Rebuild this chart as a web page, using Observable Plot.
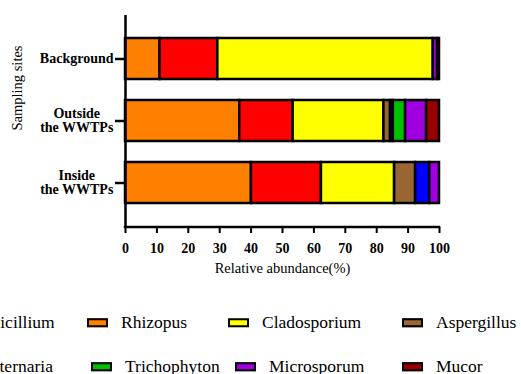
<!DOCTYPE html>
<html>
<head>
<meta charset="utf-8">
<script src="https://cdn.jsdelivr.net/npm/d3@7"></script>
<script src="https://cdn.jsdelivr.net/npm/@observablehq/plot@0.6"></script>
<style>
  html, body { margin: 0; padding: 0; background: #fff; }
  #wrap { position: relative; width: 521px; height: 374px; overflow: hidden; font-family: "Liberation Serif", Tinos, "Times New Roman", Times, "DejaVu Serif", serif; }
  #chart svg { display: block; font-family: "Liberation Serif", Tinos, "Times New Roman", Times, "DejaVu Serif", serif; }
  #chart svg text { font-family: "Liberation Serif", Tinos, "Times New Roman", Times, "DejaVu Serif", serif; }
  .leg-item { position: absolute; display: flex; align-items: center; white-space: nowrap; font-size: 17.5px; line-height: 1; color: #000; transform: translateY(-50%); }
  .leg-sw { width: 21px; height: 9px; border: 2px solid #000; box-sizing: border-box; margin-right: 13px; }
</style>
</head>
<body>
<div id="wrap">
  <div id="chart"></div>
  <div id="legend"></div>
</div>
<script>
// ---- data ----
const sites = ["Background", "Outside\nthe WWTPs", "Inside\nthe WWTPs"];
const genera = ["Rhizopus", "Penicillium", "Cladosporium", "Aspergillus", "Alternaria", "Trichophyton", "Microsporum", "Mucor"];
const generaColors = ["#FF8000", "#FF0000", "#FFFF00", "#996633", "#0000FF", "#00C000", "#A000E0", "#990000"];
const backgroundValues = [11.0, 18.4, 68.6, 0, 0, 0, 1.4, 0.6];
const outsideValues = [36.4, 17.0, 28.9, 2.1, 0.9, 3.9, 6.7, 4.1];
const insideValues = [40.1, 22.3, 23.3, 6.7, 4.5, 0, 3.1, 0];
const xTicks = [0, 10, 20, 30, 40, 50, 60, 70, 80, 90, 100];
const legendRows = [
  ["Penicillium", "Rhizopus", "Cladosporium", "Aspergillus"],
  ["Alternaria", "Trichophyton", "Microsporum", "Mucor"]
];
const xLabel = "Relative abundance(%)";
const yLabel = "Sampling sites";

// ---- layout (style only) ----
const legendLeft = [[-60, 87, 228, 402], [-52, 91, 235, 402]];
const legendRowY = [33, 77];

// ---- build table ----
const seriesBySite = [backgroundValues, outsideValues, insideValues];
const records = [];
sites.forEach((s, i) => {
  genera.forEach((g, j) => {
    const v = seriesBySite[i][j];
    if (v > 0) records.push({site: s, genus: g, value: v});
  });
});

const fontStack = '"Liberation Serif", Tinos, "Times New Roman", Times, "DejaVu Serif", serif';
const singleSites = sites.filter(s => !s.includes("\n"));
const multiSites = sites.filter(s => s.includes("\n"));

// measure width of longest line of multi-line labels
const cv = document.createElement("canvas").getContext("2d");
cv.font = `bold 14px ${fontStack}`;
const multiW = d3.max(multiSites.flatMap(s => s.split("\n")), t => cv.measureText(t).width);

const plot = Plot.plot({
  width: 521,
  height: 290,
  marginLeft: 125,
  marginRight: 82,
  marginTop: 15,
  marginBottom: 63,
  style: {fontFamily: fontStack, color: "#000", background: "#fff", overflow: "visible"},
  x: {domain: [0, 100], axis: null},
  y: {domain: sites, paddingInner: 0.333, paddingOuter: 0.35, axis: null},
  color: {domain: genera, range: generaColors},
  marks: [
    Plot.barX(records, Plot.stackX({x: "value", y: "site", fill: "genus", stroke: "#000", strokeWidth: 2.5})),
    Plot.ruleX([0], {stroke: "#000", strokeWidth: 2.5}),
    (index, scales, values, dimensions) => {
      const yy = dimensions.height - dimensions.marginBottom;
      const ln = document.createElementNS("http://www.w3.org/2000/svg", "line");
      ln.setAttribute("x1", scales.x(0) - 1.25);
      ln.setAttribute("x2", scales.x(100) + 1.25);
      ln.setAttribute("y1", yy);
      ln.setAttribute("y2", yy);
      ln.setAttribute("stroke", "#000");
      ln.setAttribute("stroke-width", 2.5);
      return ln;
    },
    Plot.axisX({ticks: xTicks, tickSize: 6, tickPadding: 10, strokeWidth: 2, fontWeight: "bold", fontSize: 14, label: null, tickFormat: d => String(d)}),
    Plot.axisY({tickSize: 10, strokeWidth: 2.5, tickFormat: () => null, label: null}),
    Plot.text(singleSites, {y: d => d, text: d => d, frameAnchor: "left", textAnchor: "end", dx: -12, fontWeight: "bold", fontSize: 14}),
    Plot.text(multiSites, {y: d => d, text: d => d, frameAnchor: "left", textAnchor: "middle", dx: -(12 + multiW / 2), fontWeight: "bold", fontSize: 14, lineHeight: 1.0}),
    Plot.text([xLabel], {text: d => d, frameAnchor: "bottom", dy: 45, fontSize: 14.5}),
    Plot.text([yLabel], {text: d => d, frameAnchor: "left", rotate: -90, dx: -108, dy: 9, fontSize: 14.5})
  ]
});
document.getElementById("chart").appendChild(plot);

// ---- legend ----
const legend = document.getElementById("legend");
legend.style.position = "absolute";
legend.style.left = "0px";
legend.style.top = "290px";
legend.style.width = "521px";
legend.style.height = "84px";
const colorOf = new Map(genera.map((g, i) => [g, generaColors[i]]));
legendRows.forEach((row, r) => {
  row.forEach((g, c) => {
    const item = document.createElement("div");
    item.className = "leg-item";
    item.style.left = legendLeft[r][c] + "px";
    item.style.top = legendRowY[r] + "px";
    const sw = document.createElement("div");
    sw.className = "leg-sw";
    sw.style.background = colorOf.get(g);
    const tx = document.createElement("span");
    tx.textContent = g;
    item.appendChild(sw);
    item.appendChild(tx);
    legend.appendChild(item);
  });
});
</script>
</body>
</html>
